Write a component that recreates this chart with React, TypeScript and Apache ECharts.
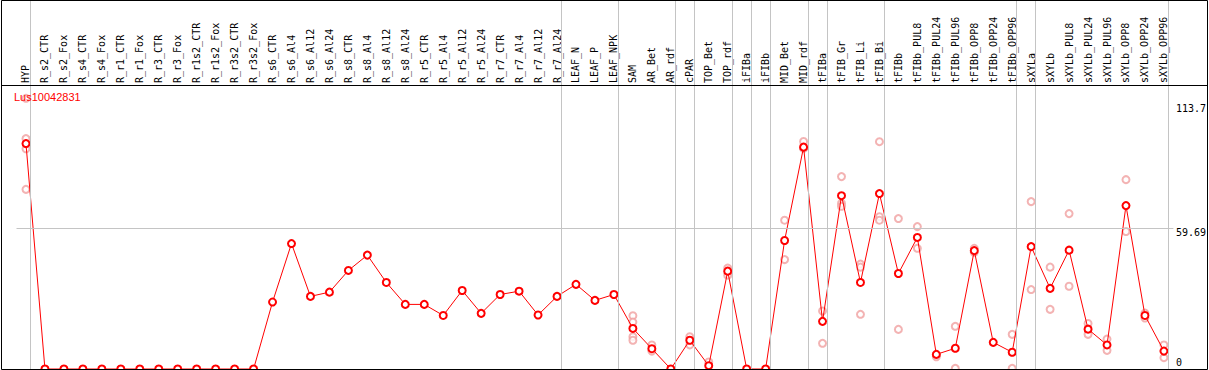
import React, { useEffect, useRef } from "react";
import * as echarts from "echarts";

const chartTitle = "Lus10042831";

const categories = [
  "HYP", "R_s2_CTR", "R_s2_Fox", "R_s4_CTR", "R_s4_Fox", "R_r1_CTR", "R_r1_Fox", "R_r3_CTR", "R_r3_Fox",
  "R_r1s2_CTR", "R_r1s2_Fox", "R_r3s2_CTR", "R_r3s2_Fox", "R_s6_CTR", "R_s6_Al4", "R_s6_Al12", "R_s6_Al24",
  "R_s8_CTR", "R_s8_Al4", "R_s8_Al12", "R_s8_Al24", "R_r5_CTR", "R_r5_Al4", "R_r5_Al12", "R_r5_Al24",
  "R_r7_CTR", "R_r7_Al4", "R_r7_Al12", "R_r7_Al24", "LEAF_N", "LEAF_P", "LEAF_NPK", "SAM", "AR_Bet", "AR_rdf",
  "cPAR", "TOP_Bet", "TOP_rdf", "iFIBa", "iFIBb", "MID_Bet", "MID_rdf", "tFIBa", "tFIB_Gr", "tFIB_Li", "tFIB_Bi",
  "tFIBb", "tFIBb_PUL8", "tFIBb_PUL24", "tFIBb_PUL96", "tFIBb_OPP8", "tFIBb_OPP24", "tFIBb_OPP96",
  "sXYLa", "sXYLb", "sXYLb_PUL8", "sXYLb_PUL24", "sXYLb_PUL96", "sXYLb_OPP8", "sXYLb_OPP24", "sXYLb_OPP96",
];

const meanValues = [
  95.6, 0, 0, 0, 0, 0, 0, 0, 0, 0, 0, 0, 0,
  28.4, 53.2, 30.8, 32.6, 41.8, 48.3, 36.7, 27.4, 27.4, 22.7, 33.3, 23.6,
  31.6, 33.0, 22.9, 30.8, 35.9, 29.1, 31.6, 17.2, 8.6, 0,
  12.2, 1.4, 41.5, 0, 0, 54.5, 94.1, 20.2, 73.5, 36.7, 74.4,
  40.5, 55.8, 6.2, 8.8, 50.2, 11.3, 7.1,
  51.9, 34.2, 50.4, 16.9, 10.2, 69.3, 22.7, 7.6,
];

const replicateValues: number[][] = [
  [114.8, 97.7, 93.4, 76.2], [], [], [], [], [], [], [], [], [], [], [], [],
  [], [], [], [], [], [], [], [], [], [], [], [],
  [], [], [], [], [], [], [], [22.6, 19.9, 13.7, 12.2], [10.2, 7.6], [],
  [13.7, 10.2], [3.0], [42.8, 39.8], [], [], [63.1, 46.4], [96.5, 93.6], [24.6, 10.9], [81.6, 70.2, 69.0], [44.5, 43.2, 23.2], [96.4, 64.6, 63.1],
  [63.8, 16.8], [60.4, 51.2], [5.9, 5.2], [18.1, 0.3], [51.2, 49.5], [], [14.7, 0.3],
  [71.0, 33.7], [43.2, 25.3], [65.9, 35.1], [19.3, 14.7], [12.7, 7.9], [80.3, 58.3], [23.7, 21.6], [10.2, 4.8],
];

// indices of the last category of each group (separator drawn after it)
const groupEnds = [-1, 0, 28, 31, 34, 35, 37, 38, 39, 41, 42, 45, 52, 53, 60];

const yTickValues = [0, 59.69, 113.7];
const gridLineValues = [59.69];

const SEP_OFFSET = 0.24;
const Y_MAX = 156.5;

export default function App() {
  const ref = useRef<HTMLDivElement>(null);
  useEffect(() => {
    if (!ref.current) return;
    const chart = echarts.init(ref.current, undefined, { renderer: "svg" });
    const repData: [number, number][] = [];
    replicateValues.forEach((arr, i) => arr.forEach((v) => repData.push([i, v])));
    const gray = "#c4c4c4";
    chart.setOption({
      animation: false,
      backgroundColor: "#ffffff",
      title: {
        text: chartTitle,
        left: 9,
        top: 86,
        textStyle: { color: "#ff0000", fontSize: 11, fontWeight: "normal", fontFamily: "Liberation Sans" },
      },
      grid: { left: 16.5, right: 33.5, top: 0, bottom: 1 },
      xAxis: [
        {
          type: "category",
          data: categories,
          position: "top",
          offset: -85,
          boundaryGap: true,
          axisLine: { show: false },
          axisTick: { show: false },
          splitLine: { show: false },
          axisLabel: {
            interval: 0,
            rotate: 90,
            margin: 2,
            color: "#000",
            fontSize: 10,
            fontFamily: "DejaVu Sans Mono",
          },
        },
        { type: "value", min: -0.5, max: 60.5, show: false },
      ],
      yAxis: {
        type: "value",
        position: "right",
        min: 0,
        max: Y_MAX,
        axisLine: { show: false },
        axisTick: { show: false },
        splitLine: { show: false },
        axisLabel: {
          customValues: yTickValues,
          margin: 2.5,
          color: "#000",
          fontSize: 10,
          fontFamily: "DejaVu Sans Mono",
          formatter: (v: number) => (v === 0 ? "{b|0}" : v > 100 ? "{t|" + v + "}" : "{m|" + v + "}"),
          rich: {
            t: { padding: [15, 0, 0, 0], fontSize: 10, fontFamily: "DejaVu Sans Mono" },
            m: { padding: [8, 0, 0, 0], fontSize: 10, fontFamily: "DejaVu Sans Mono" },
            b: { padding: [0, 0, 13, 0], fontSize: 10, fontFamily: "DejaVu Sans Mono" },
          },
        },
      },
      graphic: [
        {
          type: "rect",
          shape: { x: 1.5, y: 0.5, width: 1206, height: 369 },
          style: { fill: "none", stroke: "#000", lineWidth: 1 },
          z: 100,
          silent: true,
        },
        {
          type: "line",
          shape: { x1: 1, y1: 85.5, x2: 1208, y2: 85.5 },
          style: { stroke: "#000", lineWidth: 1 },
          z: 100,
          silent: true,
        },
      ],
      series: [
        {
          type: "line",
          xAxisIndex: 1,
          data: [],
          z: 1,
          markLine: {
            silent: true,
            symbol: ["none", "none"],
            label: { show: false },
            lineStyle: { color: gray, type: "solid", width: 1 },
            data: [
              ...groupEnds.map((k) => ({ xAxis: k + SEP_OFFSET })),
              ...gridLineValues.map((v) => ({ yAxis: v })),
            ],
          },
        },
        {
          type: "scatter",
          data: repData,
          symbol: "emptyCircle",
          symbolSize: 7,
          itemStyle: { color: "#f0a0a0", borderColor: "#f0a0a0", borderWidth: 1.2 },
          z: 2,
        },
        {
          type: "line",
          data: meanValues,
          symbol: "emptyCircle",
          symbolSize: 7,
          lineStyle: { color: "#ff0000", width: 1 },
          itemStyle: { color: "#ff0000", borderColor: "#ff0000", borderWidth: 1.5 },
          z: 3,
        },
      ],
    });
    return () => chart.dispose();
  }, []);
  return (
    <div
      ref={ref}
      style={{ position: "fixed", left: 0, top: 0, width: 1209, height: 370, background: "#fff" }}
    />
  );
}
